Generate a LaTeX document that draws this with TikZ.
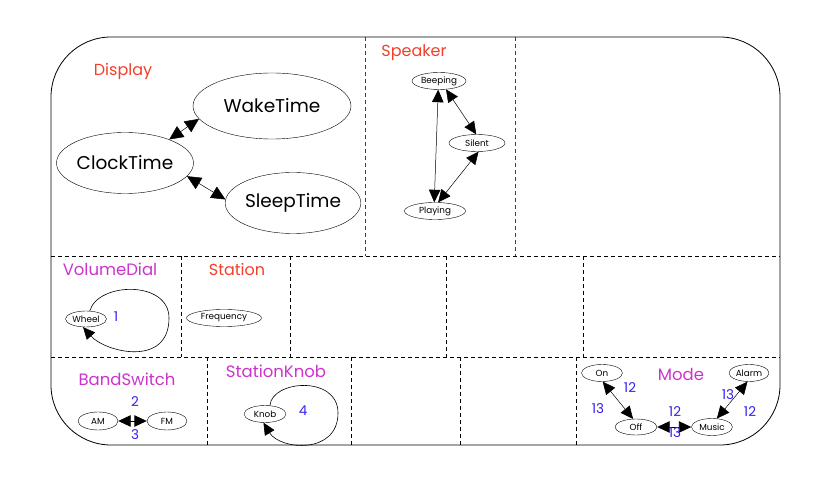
\documentclass[tikz,border=0pt]{standalone}
\usepackage{fontspec}
\setmainfont{Poppins}
\usetikzlibrary{shapes.geometric,arrows.meta}
\definecolor{labelred}{HTML}{F0402A}
\definecolor{labelmagenta}{HTML}{CC33CC}
\definecolor{numblue}{HTML}{3322EE}

\begin{document}
\begin{tikzpicture}[x=1pt,y=-1pt,
    bigstate/.style={draw,ellipse,inner sep=0pt,font=\fontsize{18.5}{21}\selectfont},
    smallstate/.style={draw,ellipse,inner sep=0pt,minimum height=17pt,font=\fontsize{8.8}{10}\selectfont},
    redlabel/.style={text=labelred,font=\fontsize{16}{19}\selectfont},
    pinklabel/.style={text=labelmagenta,font=\fontsize{16.5}{19}\selectfont},
    numlabel/.style={text=numblue,font=\fontsize{13.5}{15}\selectfont},
    bigtips/.style={{Triangle[length=14pt,width=13pt]}-{Triangle[length=14pt,width=13pt]},line width=0.5pt},
    smalltips/.style={{Triangle[length=12.5pt,width=11.5pt]}-{Triangle[length=12.5pt,width=11.5pt]},line width=0.5pt},
    looptip/.style={-{Triangle[length=12pt,width=11pt]},line width=0.6pt},
    rowline/.style={dashed,dash pattern=on 4pt off 3pt,line width=0.7pt},
    topline/.style={dash pattern=on 4pt off 3pt,line width=0.4pt,black!75}]
    \useasboundingbox (0,0) rectangle (836,494);
    \pgfmathsetmacro{\boxl}{51}
    \pgfmathsetmacro{\boxr}{780}
    \pgfmathsetmacro{\boxt}{37}
    \pgfmathsetmacro{\boxb}{445}
    \pgfmathsetmacro{\rowa}{256}
    \pgfmathsetmacro{\rowb}{357}
    % outline and partition
    \draw[line width=0.8pt,rounded corners=60pt] (\boxl,\boxt) rectangle (\boxr,\boxb);
    \draw[rowline] (\boxl,\rowa) -- (\boxr,\rowa);
    \draw[rowline] (\boxl,\rowb) -- (\boxr,\rowb);
    \foreach \x in {365,515} \draw[topline] (\x,\boxt) -- (\x,\rowa);
    \foreach \x in {181,290,446,583} \draw[rowline] (\x,\rowa) -- (\x,\rowb);
    \foreach \x in {207,351,460,576} \draw[rowline] (\x,\rowb) -- (\x,\boxb);
    % Display
    \node[redlabel] (display) at (123,71) {Display};
    \node[bigstate,minimum width=158pt,minimum height=66pt] (WakeTime) at (272,106) {WakeTime};
    \node[bigstate,minimum width=137pt,minimum height=61pt] (ClockTime) at (125,163) {ClockTime};
    \node[bigstate,minimum width=129pt,minimum height=61pt] (SleepTime) at (293,203) {SleepTime};
    \draw[bigtips] (ClockTime.28) -- (WakeTime.190);
    \draw[bigtips] (ClockTime.-12) -- (SleepTime.177);
    % Speaker
    \node[redlabel] (speaker) at (414,53) {Speaker};
    \node[smallstate,minimum width=54pt] (Beeping) at (439,81) {Beeping};
    \node[smallstate,minimum width=56pt] (Silent) at (477,143) {Silent};
    \node[smallstate,minimum width=61pt] (Playing) at (435,211) {Playing};
    \draw[smalltips] (Beeping.-95) -- (Playing.95);
    \draw[smalltips] (Beeping.-50) -- (Silent.95);
    \draw[smalltips] (Silent.-80) -- (Playing.70);
    % VolumeDial
    \node[pinklabel] (volumedial) at (110,269) {VolumeDial};
    \node[smallstate,minimum width=41pt,minimum height=16pt] (Wheel) at (86,319) {Wheel};
    \coordinate (wheelfar) at (169,318);
    \draw[looptip] (Wheel.65) .. controls (98,282) and (169,280) .. (wheelfar)
        .. controls (169,368) and (105,352) .. (Wheel.-110);
    \node[numlabel] (one) at (116,317) {1};
    % Station
    \node[redlabel] (station) at (237,269) {Station};
    \node[smallstate,minimum width=75pt] (Frequency) at (224,318) {Frequency};
    % BandSwitch
    \node[pinklabel] (bandswitch) at (127,379) {BandSwitch};
    \node[smallstate,minimum width=40pt,minimum height=18pt] (AM) at (98,421) {AM};
    \node[smallstate,minimum width=40pt,minimum height=18pt] (FM) at (167,421) {FM};
    \draw[smalltips,line width=0.9pt] (AM) -- (FM);
    \node[numlabel] (two) at (135,402) {2};
    \node[numlabel] (three) at (135,435) {3};
    % StationKnob
    \node[pinklabel] (stationknob) at (276,371) {StationKnob};
    \node[smallstate,minimum width=42pt] (Knob) at (265,414) {Knob};
    \coordinate (knobfar) at (338,413);
    \draw[looptip] (Knob.60) .. controls (272,380) and (338,375) .. (knobfar)
        .. controls (338,455) and (280,450) .. (Knob.-100);
    \node[numlabel] (four) at (303,411) {4};
    % Mode
    \node[pinklabel] (mode) at (681,374) {Mode};
    \node[smallstate,minimum width=41pt] (On) at (602,373) {On};
    \node[smallstate,minimum width=40pt] (Alarm) at (749,373) {Alarm};
    \node[smallstate,minimum width=42pt,minimum height=16pt] (Off) at (636,427) {Off};
    \node[smallstate,minimum width=41pt] (Music) at (712,427) {Music};
    \draw[smalltips] (On.-85) -- (Off.110);
    \draw[smalltips,line width=0.9pt] (Off) -- (Music);
    \draw[smalltips] (Music.60) -- (Alarm.-100);
    \node[numlabel] (onoffa) at (630,388) {12};
    \node[numlabel] (onoffb) at (598,409) {13};
    \node[numlabel] (offmusica) at (675,412) {12};
    \node[numlabel] (offmusicb) at (675,433) {13};
    \node[numlabel] (musalarma) at (728,395) {13};
    \node[numlabel] (musalarmb) at (750,412) {12};
\end{tikzpicture}
\end{document}
